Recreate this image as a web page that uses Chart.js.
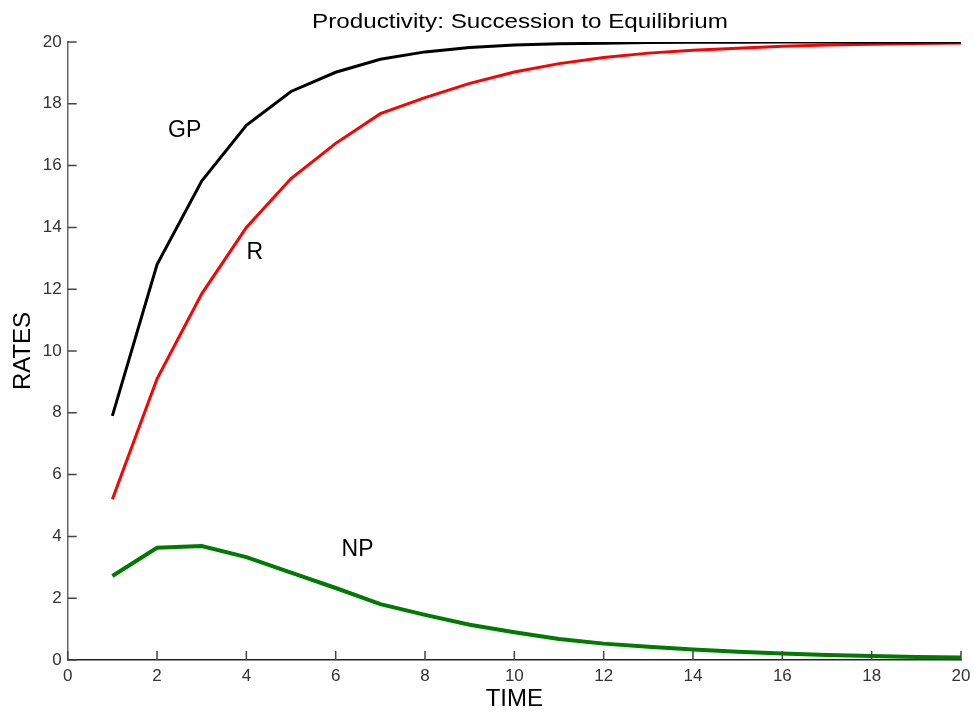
<!DOCTYPE html>
<html>
<head>
<meta charset="utf-8">
<script src="https://cdn.jsdelivr.net/npm/chart.js@4"></script>
<style>
  html, body { margin: 0; padding: 0; background: #fff; }
  #wrap { width: 974px; height: 715px; position: relative; }
</style>
</head>
<body>
<div id="wrap"><canvas id="chart"></canvas></div>
<script>
const time = [1, 2, 3, 4, 5, 6, 7, 8, 9, 10, 11, 12, 13, 14, 15, 16, 17, 18, 19, 20];
const gp = [7.9, 12.8, 15.5, 17.3, 18.4, 19.02, 19.44, 19.68, 19.82, 19.9, 19.94, 19.96, 19.98, 19.99, 19.99, 20, 20, 20, 20, 20];
const r = [5.2, 9.1, 11.85, 14.0, 15.58, 16.72, 17.68, 18.2, 18.66, 19.03, 19.3, 19.5, 19.64, 19.73, 19.8, 19.86, 19.9, 19.93, 19.95, 19.97];
const np = [2.72, 3.63, 3.69, 3.33, 2.83, 2.33, 1.81, 1.46, 1.14, 0.9, 0.68, 0.53, 0.43, 0.34, 0.27, 0.21, 0.16, 0.13, 0.1, 0.08];
const tickValues = [0, 2, 4, 6, 8, 10, 12, 14, 16, 18, 20];

// curve labels: [text, x, y] in data units
const curveLabels = [['GP', 2.62, 17.12], ['R', 4.19, 13.17], ['NP', 6.49, 3.56]];

const chartTitle = 'Productivity: Succession to Equilibrium';

function toPoints(ys) {
    return time.map((t, i) => ({ x: t, y: ys[i] }));
}

const decor = {
    id: 'decor',
    afterDraw(chart) {
        const ctx = chart.ctx;
        const xs = chart.scales.x;
        const ys = chart.scales.y;
        const area = chart.chartArea;
        ctx.save();
        // inward ticks
        ctx.lineWidth = 1.5;
        ctx.strokeStyle = '#444';
        ctx.beginPath();
        tickValues.forEach(v => {
            const px = xs.getPixelForValue(v);
            ctx.moveTo(px, area.bottom);
            ctx.lineTo(px, area.bottom - 9);
            const py = ys.getPixelForValue(v);
            ctx.moveTo(area.left, py);
            ctx.lineTo(area.left + 9, py);
        });
        ctx.stroke();
        // curve labels
        ctx.fillStyle = '#000';
        ctx.font = '23px "Liberation Sans", Arial, sans-serif';
        ctx.textAlign = 'center';
        ctx.textBaseline = 'middle';
        curveLabels.forEach(([txt, x, y]) => {
            ctx.fillText(txt, xs.getPixelForValue(x), ys.getPixelForValue(y));
        });
        // title, stretched a bit wider like the original
        ctx.font = '20px "Liberation Sans", Arial, sans-serif';
        ctx.textBaseline = 'alphabetic';
        const w = ctx.measureText(chartTitle).width;
        ctx.translate(520, 28);
        ctx.scale(416 / w, 1);
        ctx.fillText(chartTitle, 0, 0);
        ctx.restore();
    }
};

new Chart(document.getElementById('chart'), {
    type: 'line',
    data: {
        datasets: [
            { label: 'GP', data: toPoints(gp), borderColor: '#000000', borderWidth: 3 },
            { label: 'R', data: toPoints(r), borderColor: '#ff0000', borderWidth: 3 },
            { label: 'NP', data: toPoints(np), borderColor: '#007a00', borderWidth: 4 }
        ]
    },
    options: {
        responsive: true,
        maintainAspectRatio: false,
        animation: false,
        layout: { padding: { top: 42, right: 13, left: 0, bottom: 0 } },
        elements: { point: { radius: 0 }, line: { tension: 0 } },
        plugins: { legend: { display: false }, tooltip: { enabled: false } },
        scales: {
            x: {
                type: 'linear', min: 0, max: 20,
                afterBuildTicks: s => { s.ticks = tickValues.map(v => ({ value: v })); },
                afterFit: s => { s.height = 55; s.paddingRight = 0; },
                border: { display: true, color: '#222', width: 1.5 },
                grid: { display: true, drawOnChartArea: false, drawTicks: false },
                ticks: { color: '#333', padding: 6, maxRotation: 0, font: { family: '"Liberation Sans", Arial, sans-serif', size: 17 } },
                title: { display: true, text: 'TIME', color: '#000', padding: { top: 0, bottom: 1 }, font: { family: '"Liberation Sans", Arial, sans-serif', size: 24 } }
            },
            y: {
                type: 'linear', min: 0, max: 20,
                afterBuildTicks: s => { s.ticks = tickValues.map(v => ({ value: v })); },
                afterFit: s => { s.width = 67.7; },
                border: { display: true, color: '#666', width: 1.5 },
                grid: { display: true, drawOnChartArea: false, drawTicks: false },
                ticks: { color: '#333', padding: 6, font: { family: '"Liberation Sans", Arial, sans-serif', size: 17 } },
                title: { display: true, text: 'RATES', color: '#000', padding: { top: 9, bottom: 0 }, font: { family: '"Liberation Sans", Arial, sans-serif', size: 24 } }
            }
        }
    },
    plugins: [decor]
});
</script>
</body>
</html>
